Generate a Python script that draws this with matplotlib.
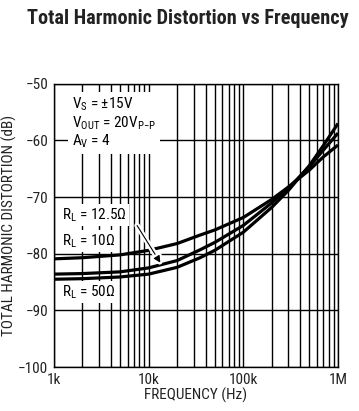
import matplotlib
matplotlib.use("Agg")
import matplotlib.pyplot as plt
import matplotlib.patheffects as pe
from matplotlib.ticker import LogLocator, NullFormatter
import numpy as np

plt.rcParams['font.family'] = ['Roboto Condensed', 'DejaVu Sans']
plt.rcParams['mathtext.fontset'] = 'custom'
plt.rcParams['mathtext.rm'] = 'Roboto Condensed'

# frequency (Hz) and THD (dB)
freq = [1e3, 2e3, 5e3, 1e4, 2e4, 3.5e4, 5e4, 1e5, 2e5, 3e5, 5e5, 7e5, 1e6]
thd_10 = [-80.9, -80.7, -80.2, -79.4, -78.2, -76.7, -75.8, -73.6, -70.4, -68.2, -65.2, -62.9, -60.8]
thd_12_5 = [-83.6, -83.5, -83.2, -82.5, -81.2, -79.3, -78.0, -75.0, -71.0, -68.4, -64.6, -61.7, -58.7]
thd_50 = [-84.5, -84.4, -84.1, -83.6, -82.4, -80.7, -79.4, -76.2, -71.8, -68.8, -64.4, -60.9, -57.0]

x_ticks = [1e3, 1e4, 1e5, 1e6]
x_labels = ["1k", "10k", "100k", "1M"]
y_ticks = [-100, -90, -80, -70, -60, -50]
y_labels = ["\u2212100", "\u221290", "\u221280", "\u221270", "\u221260", "\u221250"]

conditions = ["V$_\\mathregular{S}$ = \u00b115V",
              "V$_\\mathregular{OUT}$ = 20V$_\\mathregular{P{-}P}$",
              "A$_\\mathregular{V}$ = 4"]

fig = plt.figure(figsize=(3.59, 4.11), dpi=100)
ax = fig.add_axes([0.150, 0.107, 0.7915, 0.689])

ax.set_xscale("log")
ax.set_xlim(1e3, 1e6)
ax.set_ylim(-100, -50)
ax.set_xticks(x_ticks)
ax.set_xticklabels(x_labels)
ax.xaxis.set_minor_locator(LogLocator(base=10, subs=np.arange(2, 10)))
ax.xaxis.set_minor_formatter(NullFormatter())
ax.set_yticks(y_ticks)
ax.set_yticklabels(y_labels)
ax.tick_params(which="both", length=0, labelsize=11, pad=4, labelcolor="#222222")
ax.grid(which="both", axis="x", color="black", linewidth=1.0)
ax.grid(which="major", axis="y", color="black", linewidth=1.0)
for s in ax.spines.values():
  s.set_linewidth(1.0)

for y in [thd_10, thd_12_5, thd_50]:
  ax.plot(freq, y, color="black", linewidth=2.3, solid_capstyle="butt", zorder=3)

ax.set_xlabel("FREQUENCY (Hz)", fontsize=11, labelpad=1, color="#222222")
ax.set_ylabel("TOTAL HARMONIC DISTORTION (dB)", fontsize=11, color="#222222")
ax.yaxis.set_label_coords(-0.128, 0.5)

fig.text(0.522, 0.956, "Total Harmonic Distortion vs Frequency", ha="center", va="center",
         fontsize=14.6, fontweight="bold", color="#222222")

# conditions box
ax.text(1.55e3, -56.9, "\n".join(conditions), fontsize=11, va="center", linespacing=1.05,
        bbox=dict(facecolor="white", edgecolor="none", pad=3), zorder=4)

# curve labels
box = dict(facecolor="white", edgecolor="none", pad=1.5)
ax.text(1.23e3, -73.2, "R$_\\mathregular{L}$ = 12.5\u03a9", fontsize=11, va="center", bbox=box, zorder=4)
ax.text(1.23e3, -77.8, "R$_\\mathregular{L}$ = 10\u03a9", fontsize=11, va="center", bbox=box, zorder=4)
ax.text(1.23e3, -86.7, "R$_\\mathregular{L}$ = 50\u03a9", fontsize=11, va="center", bbox=box, zorder=4)

ax.annotate("", xy=(1.38e4, -82.0), xytext=(7.3e3, -74.6),
            arrowprops=dict(arrowstyle="-|>", color="black", lw=0.8, mutation_scale=10,
                            path_effects=[pe.Stroke(linewidth=4, foreground="white"), pe.Normal()]),
            zorder=5)

fig.savefig("out.png", dpi=100)
